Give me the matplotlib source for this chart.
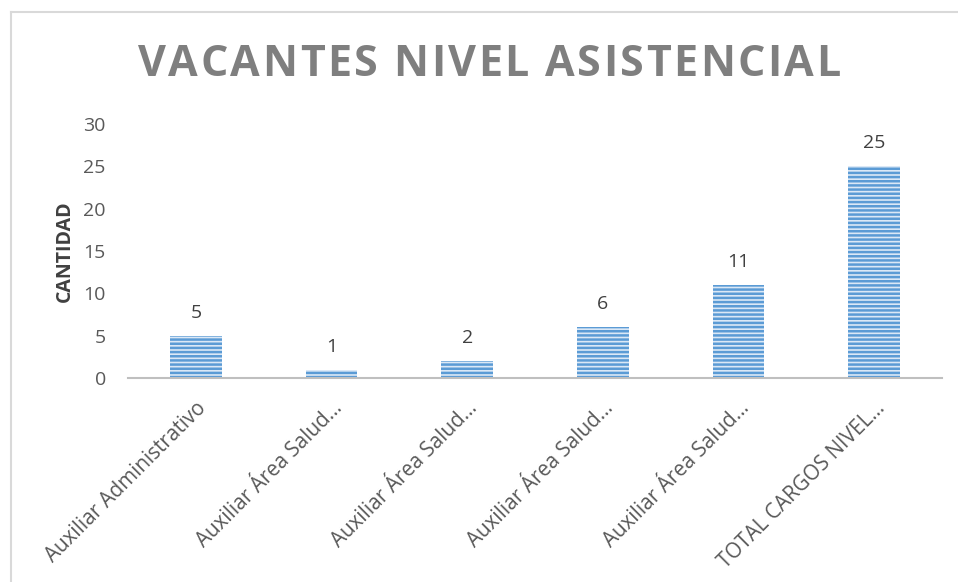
import matplotlib
matplotlib.use("Agg")
import matplotlib.pyplot as plt
from matplotlib.lines import Line2D

plt.rcParams['font.family'] = ['Open Sans', 'DejaVu Sans']
plt.rcParams['hatch.color'] = '#5B9BD5'
plt.rcParams['hatch.linewidth'] = 1.8

categories = ["Auxiliar Administrativo", "Auxiliar Área Salud…", "Auxiliar Área Salud…",
              "Auxiliar Área Salud…", "Auxiliar Área Salud…", "TOTAL CARGOS NIVEL…"]
values = [5, 1, 2, 6, 11, 25]
title = "VACANTES NIVEL ASISTENCIAL"
ylabel = "CANTIDAD"
yticks = [0, 5, 10, 15, 20, 25, 30]

W, H = 958, 582
fig = plt.figure(figsize=(W / 100, H / 100), dpi=100)
fig.patch.set_facecolor('white')

# light border (left and top visible)
fig.add_artist(Line2D([11 / W, 11 / W], [0, 1 - 12 / H], transform=fig.transFigure,
                      color='#d9d9d9', lw=1.5))
fig.add_artist(Line2D([11 / W, 1], [1 - 12 / H, 1 - 12 / H], transform=fig.transFigure,
                      color='#d9d9d9', lw=1.5))

ax = fig.add_axes([128 / W, (H - 378) / H, 814 / W, 254 / H])
x = list(range(len(values)))
bars = ax.bar(x, values, width=0.38, color='#dbe8f6', edgecolor='#5B9BD5',
              linewidth=0, hatch='----')

for xi, v in zip(x, values):
    ax.annotate(str(v), (xi, v), xytext=(0, 10), textcoords='offset points',
                ha='center', va='bottom', fontsize=14, color='#404040')

ax.set_xlim(-0.5, len(values) - 0.5)
ax.set_ylim(0, 30)
ax.set_yticks(yticks)
ax.set_yticklabels([str(t) for t in yticks], fontsize=14, color='#595959')
ax.set_xticks(x)
ax.set_xticklabels(categories, rotation=45, ha='right', rotation_mode='anchor',
                   fontsize=14.9, color='#595959')
ax.tick_params(axis='both', length=0)
ax.tick_params(axis='y', pad=16)
ax.tick_params(axis='x', pad=14)
for s in ['top', 'right', 'left']:
    ax.spines[s].set_visible(False)
ax.spines['bottom'].set_color('#bfbfbf')
ax.spines['bottom'].set_linewidth(1.5)
ax.set_ylabel(ylabel, fontsize=14, fontweight='bold', color='#404040', labelpad=6)

# letter-spaced title
fig.canvas.draw()
renderer = fig.canvas.get_renderer()
target_left, target_right = 138, 840
ty = 1 - 64 / H
fs = 31
texts = []
widths = []
for ch in title:
    t = fig.text(0, ty, ch, fontsize=fs, fontweight='bold', color='#7f7f7f',
                 va='center', ha='left')
    texts.append(t)
    if ch == ' ':
        widths.append(fs * 0.26 * 100 / 72)
    else:
        widths.append(t.get_window_extent(renderer).width)
natural = sum(widths)
gap = (target_right - target_left - natural) / (len(title) - 1)
pos = target_left
for t, w in zip(texts, widths):
    t.set_x(pos / W)
    pos += w + gap

fig.savefig('out.png', dpi=100, facecolor='white')
